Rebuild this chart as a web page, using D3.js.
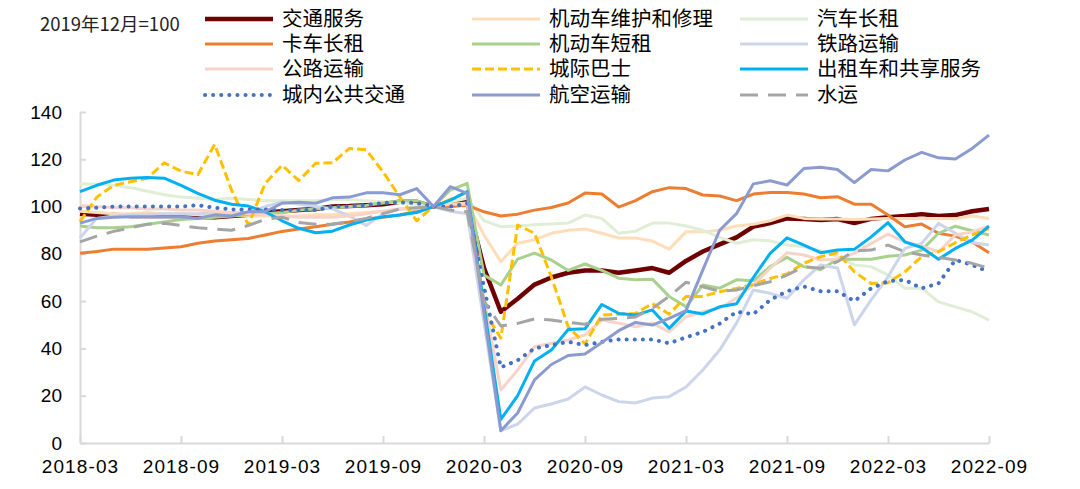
<!DOCTYPE html>
<html>
<head>
<meta charset="utf-8">
<script src="https://cdn.jsdelivr.net/npm/d3@7"></script>
<style>
  html, body { margin: 0; padding: 0; background: #fff; }
  svg { display: block; }
</style>
</head>
<body>
<div id="chart"></div>
<script>
const WIDTH = 1080;
const HEIGHT = 489;

// months 2018-03 .. 2022-09
const months = [];
for (let y = 2018, m = 3; y < 2022 || (y === 2022 && m <= 9); ) {
  months.push(`${y}-${String(m).padStart(2, "0")}`);
  m++; if (m > 12) { m = 1; y++; }
}
const tickMonths = ["2018-03", "2018-09", "2019-03", "2019-09", "2020-03", "2020-09", "2021-03", "2021-09", "2022-03", "2022-09"];
const yTicks = [0, 20, 40, 60, 80, 100, 120, 140];

const seriesNames = ["交通服务", "机动车维护和修理", "汽车长租", "卡车长租", "机动车短租", "铁路运输",
  "公路运输", "城际巴士", "出租车和共享服务", "城内公共交通", "航空运输", "水运"];

const transport = [97,96.5,96.5,96,96,96,96,95.6,95.5,96,96.5,97.5,98,98.5,99,100,100.2,100.6,101,102,102,
  100,102,102,74,55.5,61,67,70,72,73,73,72,73,74,72,77,81,84,87,91.5,93,95,94.7,94.3,94.7,93,94.8,95.5,96,96.8,96,96.4,98,99];
const repair = [98,97.5,97,97,97.5,97,97,96.5,96.5,96.5,96,96,96,96,96.5,96.5,97,97.5,98,99,99.5,
  100,101,101.5,88,76.7,84.5,86,88.7,90,90.5,88.7,86.7,86.7,85.4,82,89.3,89.3,90,91.8,92.5,94,96.4,95,94.7,94.7,94.5,94.7,95,95,95,95,94.8,96,95];
const carLease = [109.5,109.5,109,108,106.5,105,104,103.5,103,103.5,103,102.5,102.5,102.5,102.5,103,103,102.5,102,101.5,101,
  100,102,103.5,94,91.5,91.8,92.3,92.6,93,96.4,95,88.7,89.6,93,93,91.8,90,87,84.5,86,85.5,83.7,83,81.3,78.8,75.3,74.6,71,65.5,65.5,59.7,57.6,55.5,52];
const truckLease = [80.3,81,82,82,82,82.5,83,84.5,85.4,86,86.5,88,89.5,90.5,91.5,92.5,93.5,94.7,95.5,96.4,98,
  100,100,100.6,97.8,96,96.8,98.5,99.6,101.5,105.7,105.3,99.8,102.5,106.3,108,107.6,104.9,104.5,102.5,105.3,106,106,105.3,103.7,104.2,101,101,96.4,91.5,92.6,88.7,87.5,85,80.5];
const shortRent = [91.8,91,91,91.5,92.5,93.5,94.5,95,95.5,96,96.5,97,97.5,98.5,99,99.5,100,100.5,101.5,102.5,102.5,
  100,107,109.8,71,66.8,77.8,80.3,77.4,73,75.7,73,69.7,69,69.3,62,57.6,66.8,65.5,69,68.6,74.6,78.5,74.6,73.4,77.7,77.7,77.7,79,79.5,81.6,88.7,91.7,89.8,88];
const rail = [86.7,95,96,96.5,96.5,97,97,97,97.5,97.5,97.5,100,102,101,100,99,96,92,97,99,99,
  100,98,97,51,5.2,8,14.8,16.5,18.6,23.7,20.3,17.5,16.9,19,19.6,23.7,30.9,39.3,50.7,64.7,63.3,61.2,69,75.3,74,50,60.5,70.3,82.3,84.4,92.9,88.7,84.7,83.7];
const road = [100.5,100,99.5,99.5,99,99,98.5,98.5,98,97.5,97,96.5,96,95.5,95.5,95.5,96,97,98,99,99.5,
  100,101,101,61,22.4,30.9,40.7,42.2,43.6,45.7,52,50.7,49.2,50.7,47,53.4,55.5,57,61.2,66.8,73.9,80.5,79.5,77.4,77.7,80.2,84.4,88.4,85,83.3,80.9,88,89.3,91.7];
const intercityBus = [93.6,104,109,110.5,112,118.5,115,113.5,126.3,107,92.2,109.8,117.5,111,118.3,118.5,124.6,124,114.7,104,94,
  100,103,106,56,44.3,92.2,88.7,70.3,49.2,41.9,54.1,54.5,54.8,59,54.5,62,62,64,65.4,67,69.6,71.5,76,78.8,80.5,72.4,67.5,67.8,72.4,78.8,80.9,84.7,88,90.8];
const taxi = [106.3,109,111.2,112,112.3,112,109,105.6,102.7,101,100.2,97.8,94,90.8,88.9,89.6,92.2,94.3,95.7,96.4,97.5,
  100,102.7,106.3,58,10,20,34.7,39.3,48,48.3,58.6,54.8,54.1,56.3,48.5,55.8,54.6,57.6,58.9,70,80.2,86.8,83.7,80.5,81.6,81.9,87.2,93.2,85.1,82.7,77.7,82.3,85.8,91.7];
const cityTransit = [99.2,99.5,100,100,100,100,100,100.6,99.5,98.8,98.8,98.8,98.5,98.5,98.5,100,100,100.6,101.5,101.8,101.5,
  100,100,101.3,66,32,35,40,41.4,42.8,41.4,42.8,43.8,43.8,43.8,42.2,44.7,47,50.5,55.5,54.5,60.5,64.2,66.2,64.2,64.2,60,65.4,68.4,69,65.4,67.5,77.4,75.3,72.4];
const air = [93,95,95.5,95.7,95.7,95.7,95.7,95,96.5,96,97.8,97.8,101.4,101.8,101.4,103.7,104,105.8,105.8,105,107.6,
  100,108.4,105.6,55,5.2,12.7,26.7,33.2,37,37.6,42.5,47.5,51,49.9,52.7,56,73.2,90,97,109.6,110.9,109.1,116.1,116.6,115.7,110.1,115.7,115.1,119.7,122.9,120.6,120.1,124.6,130.2];
const water = [85.1,87.5,89.5,91,92.5,92.9,92,91,90.5,90,92,94.6,95.5,93.3,92.5,92.6,93.6,95,97,99,99.5,
  100,98.5,97.8,60,49.5,50.6,52.5,52,51,50.2,52.3,52.7,53.3,57,62,68,66.1,64.2,64.7,66.5,68.2,71,74.6,73.9,76.7,81.3,81.6,83.7,80.9,79.5,78.5,77.4,76,73.9];

const seriesValues = [transport, repair, carLease, truckLease, shortRent, rail,
  road, intercityBus, taxi, cityTransit, air, water];

// line styles per series, same order as names
const STYLES = [
  { color: "#6E0000", width: 4.5 },
  { color: "#FFDDB8", width: 3 },
  { color: "#DFEED5", width: 3 },
  { color: "#ED7D31", width: 3 },
  { color: "#A9D18E", width: 3 },
  { color: "#CDD5EA", width: 3 },
  { color: "#F8D3C8", width: 3 },
  { color: "#FFC000", width: 3, dash: "9,4" },
  { color: "#00B0F0", width: 3 },
  { color: "#4472C4", width: 4, dash: "0.1,8", cap: "round" },
  { color: "#8C9BCF", width: 3 },
  { color: "#A5A5A5", width: 3, dash: "18,10" }
];

const svg = d3.select("#chart").append("svg")
  .attr("width", WIDTH)
  .attr("height", HEIGHT);

const x = d3.scaleLinear().domain([0, months.length - 1]).range([80, 989]);
const y = d3.scaleLinear().domain([0, 140]).range([443, 112]);

// axes
const xAxis = d3.axisBottom(x)
  .tickValues(tickMonths.map(m => months.indexOf(m)))
  .tickFormat(i => months[i])
  .tickSize(-7)
  .tickSizeOuter(0)
  .tickPadding(17);

const yAxis = d3.axisLeft(y)
  .tickValues(yTicks)
  .tickSize(-6)
  .tickSizeOuter(0)
  .tickPadding(18);

const gx = svg.append("g").attr("transform", "translate(0,443)").call(xAxis);
const gy = svg.append("g").attr("transform", "translate(80,0)").call(yAxis);

[gx, gy].forEach(g => {
  g.select(".domain").attr("stroke", "#D9D9D9").attr("stroke-width", 2);
  g.selectAll(".tick line").attr("stroke", "#D9D9D9").attr("stroke-width", 2);
  g.selectAll(".tick text")
    .attr("fill", "#000")
    .style("font-family", "'Liberation Sans', Arial, sans-serif")
    .style("font-size", "19px");
});
gx.selectAll(".tick text").style("letter-spacing", "1.1px");

// lines
const line = d3.line()
  .x((d, i) => x(i))
  .y(d => y(d));

svg.append("g").selectAll("path")
  .data(seriesValues)
  .join("path")
  .attr("d", line)
  .attr("fill", "none")
  .attr("stroke", (d, i) => STYLES[i].color)
  .attr("stroke-width", (d, i) => STYLES[i].width)
  .attr("stroke-dasharray", (d, i) => STYLES[i].dash || null)
  .attr("stroke-linecap", (d, i) => STYLES[i].cap || "butt")
  .attr("stroke-linejoin", "round");

// legend, 3 columns x 4 rows
const legendCols = [205, 472, 740];
const legendRows = [19, 44, 69, 95];
const legend = svg.append("g").selectAll("g")
  .data(seriesNames)
  .join("g")
  .attr("transform", (d, i) => `translate(${legendCols[i % 3]},${legendRows[Math.floor(i / 3)]})`);

legend.append("line")
  .attr("x1", 0).attr("x2", 68)
  .attr("y1", 0).attr("y2", 0)
  .attr("stroke", (d, i) => STYLES[i].color)
  .attr("stroke-width", (d, i) => STYLES[i].width)
  .attr("stroke-dasharray", (d, i) => STYLES[i].dash || null)
  .attr("stroke-linecap", (d, i) => STYLES[i].cap || "butt");

legend.append("text")
  .attr("x", 77)
  .attr("y", 0)
  .attr("dy", "0.36em")
  .style("font-family", "'Noto Sans CJK SC', sans-serif")
  .style("font-size", "20.5px")
  .attr("fill", "#000")
  .text(d => d);

svg.append("text")
  .attr("x", 40)
  .attr("y", 24)
  .attr("dy", "0.36em")
  .style("font-family", "'Noto Sans CJK SC', sans-serif")
  .style("font-size", "18.5px")
  .attr("fill", "#222")
  .text("2019年12月=100");
</script>
</body>
</html>
